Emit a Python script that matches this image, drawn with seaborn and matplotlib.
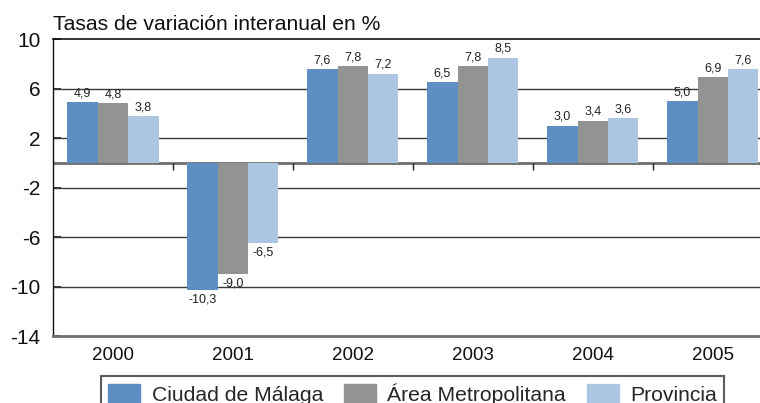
import numpy as np
import pandas as pd
import matplotlib
matplotlib.use("Agg")
import matplotlib.pyplot as plt
import seaborn as sns

years = ["2000", "2001", "2002", "2003", "2004", "2005"]
series = ["Ciudad de Málaga", "Área Metropolitana", "Provincia"]
ciudad = [4.9, -10.3, 7.6, 6.5, 3.0, 5.0]
area_metro = [4.8, -9.0, 7.8, 7.8, 3.4, 6.9]
provincia = [3.8, -6.5, 7.2, 8.5, 3.6, 7.6]
y_ticks = [-14, -10, -6, -2, 2, 6, 10]
colors = ["#5e8ec4", "#939393", "#adc6e2"]

df = pd.DataFrame({
    "year": years * 3,
    "serie": [s for s in series for _ in years],
    "valor": ciudad + area_metro + provincia,
})

sns.set_style("white")
plt.rcParams["font.family"] = ["Liberation Sans", "DejaVu Sans"]
plt.rcParams["axes.unicode_minus"] = False

fig = plt.figure(figsize=(7.6, 4.03), dpi=100)
ax = fig.add_axes([0.0697, 0.166, 0.947, 0.737])

sns.barplot(data=df, x="year", y="valor", hue="serie", order=years,
            hue_order=series, palette=colors, width=0.76, saturation=1,
            linewidth=0, errorbar=None, ax=ax, zorder=3)

ax.set_ylim(y_ticks[0], y_ticks[-1])
ax.set_xlim(-0.5, len(years) - 0.5)
ax.set_yticks(y_ticks)
ax.set_yticklabels([str(t) for t in y_ticks], fontsize=15)
ax.set_xlabel("")
ax.set_ylabel("")

# horizontal reference lines
for t in y_ticks[1:-1]:
    ax.axhline(t, color="#3a3a3a", lw=1.0, zorder=1)
ax.axhline(0, color="#6e6e6e", lw=2.0, zorder=2)

# separators between year groups hanging from the zero line
seps = np.arange(len(years) - 1) + 0.5
ax.vlines(seps, -0.6, 0, color="#222222", lw=1.0, zorder=2)

ax.spines["right"].set_visible(False)
ax.spines["left"].set_color("#111111")
ax.spines["left"].set_linewidth(1.0)
ax.spines["top"].set_color("#111111")
ax.spines["top"].set_linewidth(1.2)
ax.spines["bottom"].set_color("#6e6e6e")
ax.spines["bottom"].set_linewidth(2.0)

ax.tick_params(axis="y", direction="in", length=6, width=1.2, pad=9,
               colors="#111111", left=True)
ax.tick_params(axis="x", length=0, pad=8, labelsize=13.5, colors="#111111")

for cont in ax.containers:
    ax.bar_label(cont, labels=[f"{b.get_height():.1f}".replace(".", ",")
                               for b in cont],
                 padding=2, fontsize=9, color="#222222")

ax.get_legend().remove()
handles = [plt.Rectangle((0, 0), 1, 1, color=c) for c in colors]
leg = fig.legend(handles, series, ncol=3, loc="upper center",
                 bbox_to_anchor=(0.543, 1 - 376 / 403), fontsize=15.2,
                 frameon=True, fancybox=False, edgecolor="#333333",
                 handlelength=1.5, handleheight=1.0, handletextpad=0.55,
                 columnspacing=1.0, borderpad=0.35, borderaxespad=0)
leg.get_frame().set_linewidth(1.5)

fig.text(53 / 760, 1 - 30 / 403, "Tasas de variación interanual en %",
         fontsize=15.2, ha="left", va="baseline", color="#111111")

fig.savefig("out.png", dpi=100)
